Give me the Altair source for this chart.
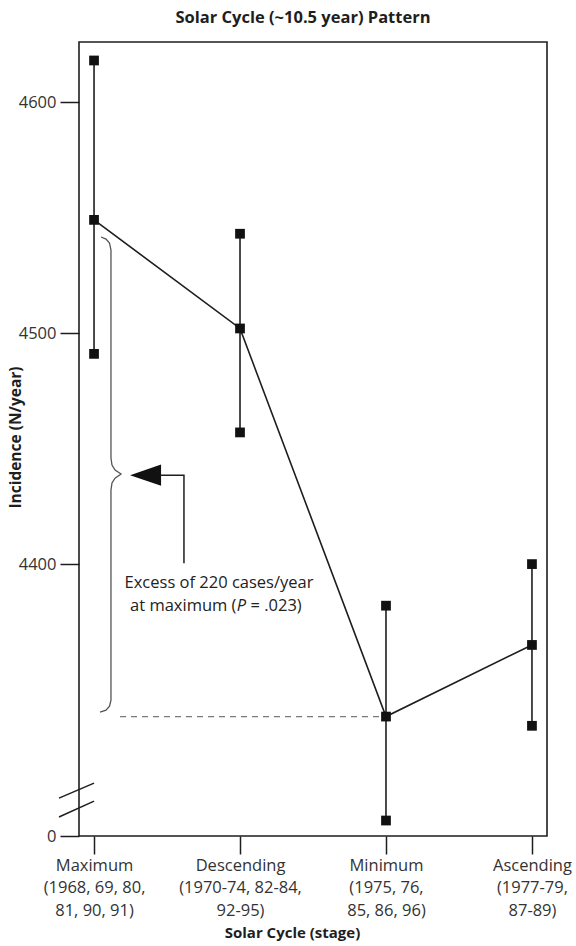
import json
import altair as alt
import pandas as pd

# ---------------- data ----------------
stages = ["Maximum", "Descending", "Minimum", "Ascending"]
stage_label_lines = [
    ["Maximum", "(1968, 69, 80,", "81, 90, 91)"],
    ["Descending", "(1970-74, 82-84,", "92-95)"],
    ["Minimum", "(1975, 76,", "85, 86, 96)"],
    ["Ascending", "(1977-79,", "87-89)"],
]
stage_pos = [0, 1, 2, 3]
mean_vals = [4549, 4502, 4334, 4365]
low_vals = [4491, 4457, 4289, 4330]
high_vals = [4618, 4543, 4382, 4400]

y_ticks = [4282.3, 4400, 4500, 4600]
y_tick_labels = ["0", "4400", "4500", "4600"]
y_domain = [4282.3, 4626]
x_domain = [-0.103, 3.103]

# annotation: curly brace (data coordinates)
brace_x = [0.048, 0.082, 0.106, 0.116, 0.116, 0.123, 0.144, 0.185,
           0.144, 0.123, 0.116, 0.116, 0.106, 0.082, 0.041]
brace_y = [4541.6, 4540.7, 4539.0, 4535.9, 4445.9, 4442.9, 4440.7, 4439.0,
           4437.2, 4435.1, 4432.0, 4341.1, 4338.5, 4336.8, 4335.9]
# dashed reference line at the minimum mean
dash_x = [0.178, 2.0]
# arrow stem and head
stem_x = [0.459, 0.616, 0.616]
stem_y = [4438.5, 4438.5, 4400.4]
head_x = [0.353]
head_y = [4438.5]
# annotation text anchors
note1_x, note1_y = 0.856, 4391.8
note2_x, note2_y = 1.010, 4381.8
# axis break slashes
break_x1 = [-0.240, -0.240]
break_x2 = [0.0, 0.0]
break_y1 = [4298.7, 4290.5]
break_y2 = [4305.2, 4297.4]

# ---------------- styling ----------------
FONT = "Open Sans"
INK = "#1e1e1e"

xscale = alt.Scale(domain=x_domain, nice=False, zero=False)
yscale = alt.Scale(domain=y_domain, nice=False, zero=False)

x_axis = alt.Axis(
    values=stage_pos,
    labelExpr=json.dumps(stage_label_lines) + "[datum.value]",
    title="Solar Cycle (stage)",
    titleX=213, titleY=96, titleBaseline="middle", titleAlign="center",
    grid=False, domain=False, tickSize=18, tickWidth=1.5, tickColor=INK,
    labelPadding=3, labelLineHeight=22.5, labelFontSize=16.5,
    labelFont=FONT, labelColor="#333", labelAlign="center",
    titleFont=FONT, titleFontSize=15, titleFontWeight="bold", titleColor=INK,
)
y_axis = alt.Axis(
    values=y_ticks,
    labelExpr=json.dumps(y_tick_labels) + "[indexof(" + json.dumps(y_ticks) + ", datum.value)]",
    title="Incidence (N/year)",
    titleX=-64, titleY=395, titleAngle=270, titleBaseline="middle", titleAlign="center",
    grid=False, domain=False, tickSize=19, tickWidth=1.5, tickColor=INK,
    labelPadding=4, labelFontSize=16.5, labelFont=FONT, labelColor="#333",
    titleFont=FONT, titleFontSize=15.5, titleFontWeight="bold", titleColor=INK,
)


def X(field="x"):
    return alt.X(f"{field}:Q", scale=xscale, axis=x_axis)


def Y(field="y"):
    return alt.Y(f"{field}:Q", scale=yscale, axis=y_axis)


summary = pd.DataFrame({"x": stage_pos, "stage": stages, "y": mean_vals,
                        "low": low_vals, "high": high_vals})
points = pd.DataFrame({
    "x": stage_pos * 3,
    "y": low_vals + mean_vals + high_vals,
})

err = alt.Chart(summary).mark_rule(color=INK, strokeWidth=1.6).encode(
    x=X(), y=Y("low"), y2="high:Q")
mean_line = alt.Chart(summary).mark_line(color=INK, strokeWidth=1.6).encode(
    x=X(), y=Y())
squares = alt.Chart(points).mark_square(size=95, color="#111", opacity=1).encode(
    x=X(), y=Y())

dash_df = pd.DataFrame({"x": [dash_x[0]], "x2": [dash_x[1]], "y": [mean_vals[2]]})
dashed = alt.Chart(dash_df).mark_rule(color="#7a7a7a", strokeWidth=1.2,
                                      strokeDash=[6, 5]).encode(
    x=X(), x2="x2:Q", y=Y())

brace_df = pd.DataFrame({"x": brace_x, "y": brace_y, "i": list(range(len(brace_x)))})
brace = alt.Chart(brace_df).mark_line(color="#555", strokeWidth=1.3).encode(
    x=X(), y=Y(), order="i:Q")

stem_df = pd.DataFrame({"x": stem_x, "y": stem_y, "i": list(range(len(stem_x)))})
stem = alt.Chart(stem_df).mark_line(color=INK, strokeWidth=1.5).encode(
    x=X(), y=Y(), order="i:Q")

head_df = pd.DataFrame({"x": head_x, "y": head_y})
head = alt.Chart(head_df).mark_point(
    shape="M1,-0.68L-1,0L1,0.68Z", size=961, filled=True, color="#111", opacity=1,
    strokeWidth=0).encode(x=X(), y=Y())

t1 = alt.Chart(pd.DataFrame({"x": [note1_x], "y": [note1_y],
                             "t": ["Excess of 220 cases/year"]})).mark_text(
    font=FONT, fontSize=16.5, color="#222", align="center", baseline="middle").encode(
    x=X(), y=Y(), text="t:N")
t2a = alt.Chart(pd.DataFrame({"x": [note2_x], "y": [note2_y],
                              "t": ["at maximum ("]})).mark_text(
    font=FONT, fontSize=16.5, color="#222", align="right", baseline="middle", dx=-5).encode(
    x=X(), y=Y(), text="t:N")
t2b = alt.Chart(pd.DataFrame({"x": [note2_x], "y": [note2_y],
                              "t": ["P"]})).mark_text(
    font=FONT, fontSize=16.5, fontStyle="italic", color="#222", align="center",
    baseline="middle").encode(x=X(), y=Y(), text="t:N")
t2c = alt.Chart(pd.DataFrame({"x": [note2_x], "y": [note2_y],
                              "t": ["= .023)"]})).mark_text(
    font=FONT, fontSize=16.5, color="#222", align="left", baseline="middle", dx=9).encode(
    x=X(), y=Y(), text="t:N")

break_df = pd.DataFrame({"x": break_x1, "x2": break_x2, "y": break_y1, "y2": break_y2})
breaks = alt.Chart(break_df).mark_rule(color=INK, strokeWidth=1.5).encode(
    x=X(), x2="x2:Q", y=Y(), y2="y2:Q")

chart = alt.layer(
    dashed, brace, stem, head, err, mean_line, squares, t1, t2a, t2b, t2c, breaks
).properties(
    width=468, height=794,
    autosize=alt.AutoSizeParams(type="none"),
    padding={"left": 79, "top": 42, "right": 29, "bottom": 110},
    background="white",
    title=alt.TitleParams(
        "Solar Cycle (~10.5 year) Pattern", font=FONT, fontSize=16.5,
        fontWeight="bold", color=INK, anchor="middle", frame="group", dx=-10,
        offset=3, baseline="alphabetic"),
).configure_view(stroke=INK, strokeWidth=1.6)

chart.save("out.html", embed_options={"renderer": "svg", "actions": False})
